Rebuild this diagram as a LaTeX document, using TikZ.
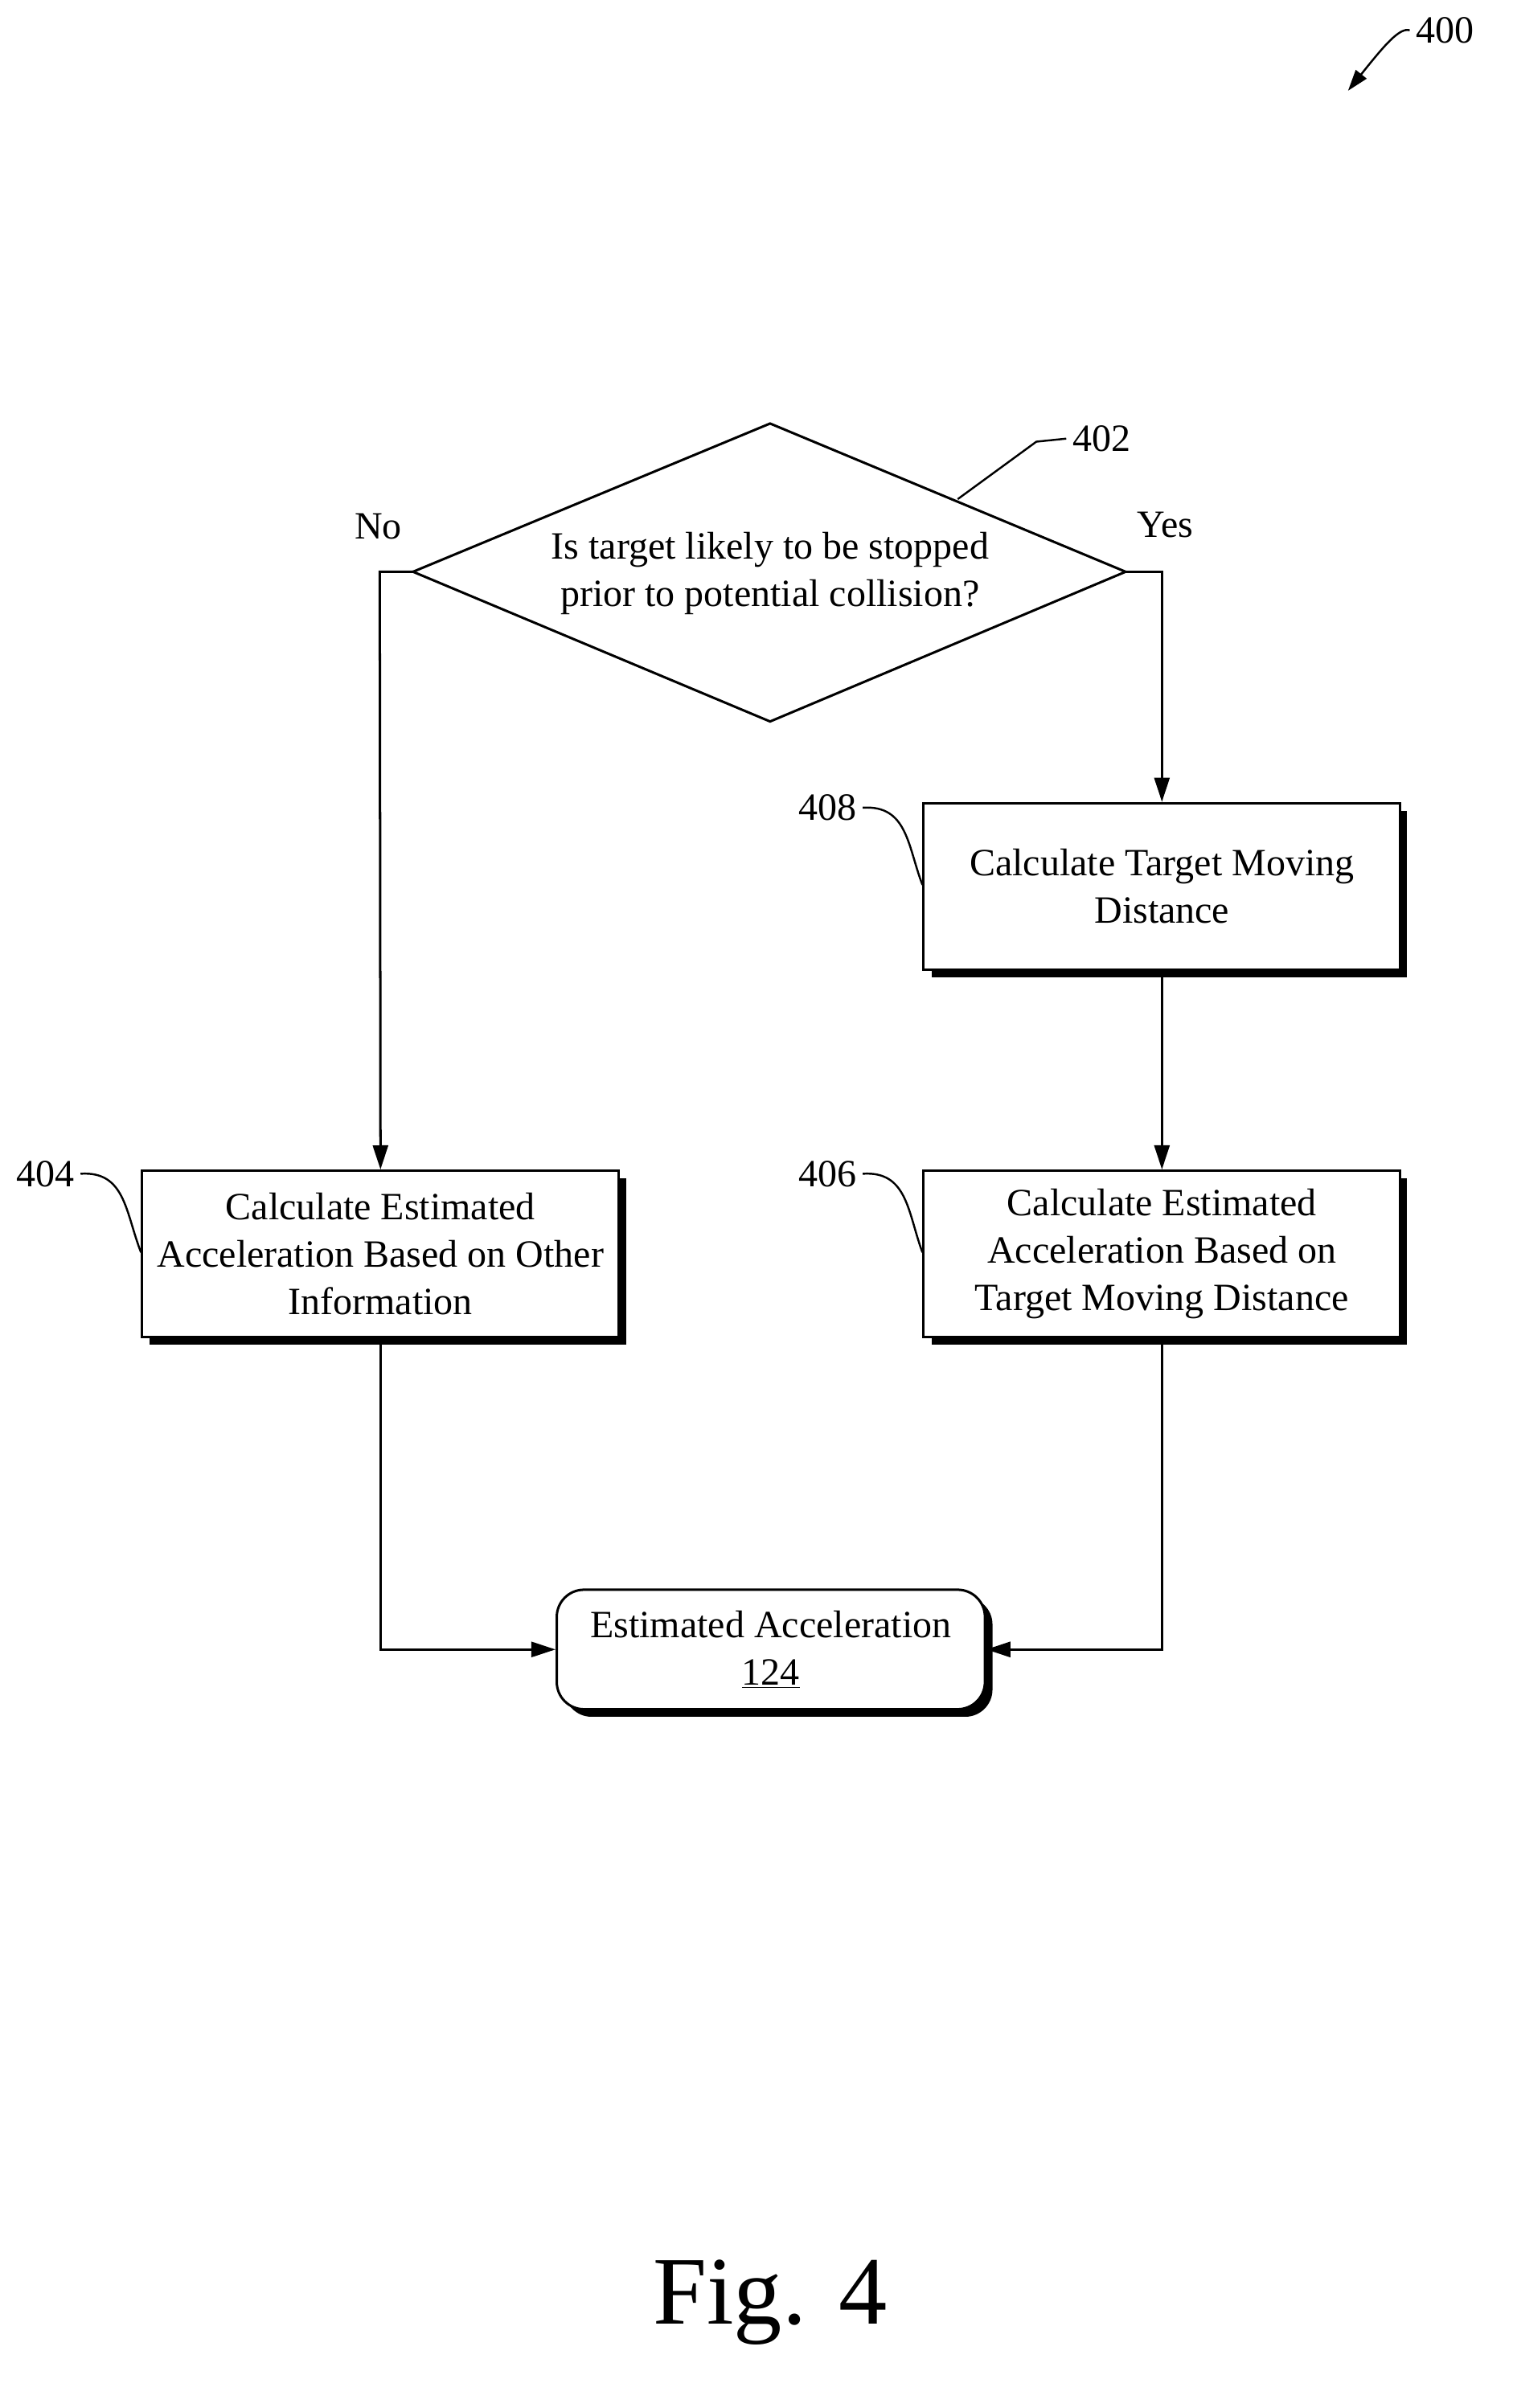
\documentclass[tikz,border=0pt]{standalone}
\usepackage{fontspec}
\setmainfont{Liberation Serif}
\usetikzlibrary{arrows.meta,shapes.geometric}
\begin{document}
\begin{tikzpicture}[x=1pt,y=-1pt,line width=1.6pt,
  box/.style={draw,fill=white,minimum width=315pt,minimum height=110pt,align=center,inner sep=0pt,font=\fontsize{25.5}{31.5}\selectfont},
  shadow/.style={fill=black,draw=none},
  arr/.style={-{Triangle[length=16pt,width=10pt]}},
  lbl/.style={font=\fontsize{25.5}{28}\selectfont},
  lead/.style={line width=1.3pt}]
\useasboundingbox (0,0) rectangle (1000,1592);
% diamond
\coordinate (dt) at (509,280); \coordinate (db) at (509,477);
\coordinate (dl) at (273,378); \coordinate (dr) at (744,378);
\draw (dt) -- (dr) -- (db) -- (dl) -- cycle;
\node[align=center,font=\fontsize{25.5}{31.5}\selectfont] (q) at (509,379) {Is target likely to be stopped\\prior to potential collision?};
\node[lbl] (l402) at (728,290) {402};
\coordinate (c402) at (633,330);
\draw[lead] (c402) -- (685,292) -- (l402.west);
\node[lbl] (no) at (250,348) {No};
\node[lbl] (yes) at (770,347) {Yes};
\node[lbl] (l400) at (955,20) {400};
\coordinate (a400) at (891,60);
\draw[lead,-{Triangle[length=14pt,width=9pt]}] (l400.west) .. controls (925,18) and (915,30) .. (a400);
% boxes
\fill[shadow] (616,536) rectangle (930,646);
\node[box] (b408) at (768,586) {Calculate Target Moving\\Distance};
\fill[shadow] (616,779) rectangle (930,889);
\node[box] (b406) at (768,829) {Calculate Estimated\\Acceleration Based on\\Target Moving Distance};
\fill[shadow] (99,779) rectangle (414,889);
\node[box] (b404) at (251.5,829) {Calculate Estimated\\Acceleration Based on Other\\Information};
\fill[shadow,rounded corners=18pt] (373,1056) rectangle (656,1135);
\node[box,rounded corners=18pt,minimum width=283pt,minimum height=79pt] (est) at (509.5,1090.5) {Estimated Acceleration\\\underline{124}};
% ref labels
\node[lbl] (l408) at (547,534) {408};
\node[lbl] (l406) at (547,776) {406};
\node[lbl] (l404) at (30,776) {404};
\draw[lead] (l408.east) .. controls (600,532) and (600,560) .. (b408.west|-0,585);
\draw[lead] (l406.east) .. controls (600,774) and (600,802) .. (b406.west|-0,828);
\draw[lead] (l404.east) .. controls (83,774) and (83,802) .. (b404.west|-0,828);
% connectors
\draw[arr] (dl) -- (251,378) -- (b404.north);
\draw[arr] (dr) -- (768,378) -- (b408.north);
\draw[arr] (b408.south) -- (b406.north);
\draw[arr] (b404.south) |- (est.west);
\draw[arr] (b406.south) |- (est.east);
\node[font=\fontsize{64}{70}\selectfont] (fig) at (509,1522) {Fig. 4};
\end{tikzpicture}
\end{document}
